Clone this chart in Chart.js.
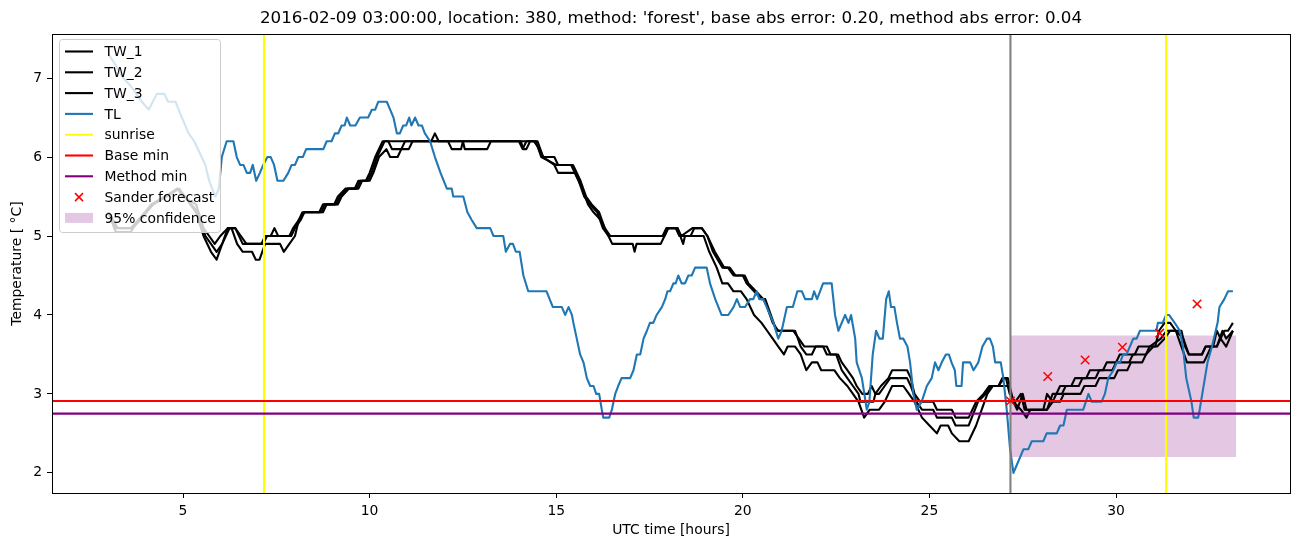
<!DOCTYPE html>
<html>
<head>
<meta charset="utf-8">
<script src="https://cdn.jsdelivr.net/npm/chart.js@4.4.0/dist/chart.umd.min.js"></script>
<style>
  body { margin: 0; background: #fff; }
  #wrap { width: 1302px; height: 547px; }
</style>
</head>
<body>
<div id="wrap"><canvas id="tempChart" width="1302" height="547"></canvas></div>
<script>
// [hour, temperature] pairs
const tw1 = [[3.0,5.3],[3.2,5.1],[3.6,5.1],[3.8,5.2],[4.15,5.4],[4.5,5.5],[4.85,5.6],[5.0,5.5],[5.35,5.4],[5.55,5.1],[5.7,5.0],[5.85,4.9],[6.0,5.0],[6.2,5.1],[6.4,5.1],[6.55,5.0],[6.7,4.9],[7.1,4.9],[7.2,5.0],[7.35,5.0],[7.45,5.1],[7.55,5.0],[7.85,5.0],[7.95,5.1],[8.1,5.2],[8.2,5.3],[8.65,5.3],[8.75,5.4],[9.05,5.4],[9.15,5.5],[9.35,5.6],[9.6,5.6],[9.7,5.7],[9.9,5.7],[10.0,5.8],[10.15,6.0],[10.35,6.2],[11.65,6.2],[11.75,6.3],[11.85,6.2],[14.4,6.2],[14.55,6.1],[14.65,6.0],[14.95,6.0],[15.05,5.9],[15.4,5.9],[15.6,5.7],[15.75,5.5],[15.9,5.4],[16.1,5.3],[16.25,5.1],[16.4,5.0],[17.85,5.0],[17.95,5.1],[18.2,5.1],[18.3,5.0],[18.6,5.0],[18.7,5.1],[18.9,5.1],[19.05,5.0],[19.2,4.8],[19.45,4.6],[19.6,4.6],[19.75,4.5],[20.0,4.5],[20.1,4.4],[20.3,4.3],[20.5,4.2],[20.6,4.2],[20.75,4.0],[20.9,3.8],[21.35,3.8],[21.5,3.7],[21.65,3.6],[22.25,3.6],[22.35,3.5],[22.55,3.5],[22.65,3.4],[22.8,3.3],[22.95,3.2],[23.05,3.1],[23.2,3.0],[23.35,3.0],[23.45,3.1],[23.55,3.0],[23.7,3.1],[23.9,3.2],[24.0,3.3],[24.4,3.3],[24.5,3.2],[24.6,3.0],[24.75,2.9],[25.1,2.9],[25.2,2.8],[25.6,2.8],[25.7,2.7],[26.05,2.7],[26.25,2.9],[26.45,3.0],[26.6,3.1],[26.85,3.1],[26.95,3.2],[27.05,3.2],[27.15,3.0],[27.3,2.9],[27.45,3.0],[27.55,2.8],[28.05,2.8],[28.15,3.0],[28.3,2.9],[28.4,3.0],[28.5,3.1],[28.8,3.1],[28.9,3.2],[29.2,3.2],[29.3,3.3],[29.65,3.3],[29.75,3.4],[30.0,3.4],[30.1,3.5],[30.5,3.5],[30.6,3.6],[31.05,3.6],[31.15,3.8],[31.3,3.9],[31.45,3.9],[31.6,3.8],[31.75,3.8],[31.85,3.6],[31.95,3.5],[32.3,3.5],[32.4,3.6],[32.6,3.6],[32.7,3.8],[32.8,3.7],[32.9,3.8],[33.0,3.8],[33.13,3.9]];
const tw2 = [[3.0,5.3],[3.25,5.1],[3.65,5.1],[3.85,5.2],[4.2,5.4],[4.55,5.5],[4.85,5.6],[5.05,5.5],[5.4,5.3],[5.6,5.0],[5.75,4.9],[5.9,4.8],[6.05,4.9],[6.25,5.1],[6.4,5.1],[6.6,4.9],[6.75,4.9],[7.15,4.9],[7.25,5.0],[7.9,5.0],[8.0,5.1],[8.15,5.2],[8.25,5.3],[8.7,5.3],[8.8,5.4],[9.1,5.4],[9.2,5.5],[9.4,5.6],[9.65,5.6],[9.75,5.7],[9.95,5.7],[10.05,5.8],[10.2,6.0],[10.4,6.2],[10.5,6.2],[10.6,6.1],[10.85,6.1],[10.95,6.2],[12.1,6.2],[12.2,6.1],[12.45,6.1],[12.5,6.2],[12.55,6.1],[13.15,6.1],[13.25,6.2],[14.0,6.2],[14.1,6.1],[14.2,6.2],[14.45,6.2],[14.6,6.0],[15.0,5.9],[15.45,5.9],[15.65,5.7],[15.8,5.5],[15.95,5.4],[16.15,5.3],[16.3,5.1],[16.45,5.0],[17.9,5.0],[18.0,5.1],[18.25,5.1],[18.35,5.0],[18.65,5.1],[18.9,5.1],[19.05,5.0],[19.25,4.8],[19.5,4.6],[19.65,4.6],[19.8,4.5],[20.05,4.5],[20.15,4.4],[20.35,4.3],[20.55,4.2],[20.65,4.1],[20.8,3.9],[20.95,3.8],[21.4,3.8],[21.55,3.6],[21.7,3.5],[21.85,3.5],[21.95,3.6],[22.15,3.6],[22.25,3.5],[22.5,3.5],[22.65,3.3],[22.8,3.2],[22.95,3.1],[23.1,3.0],[23.15,2.9],[23.5,2.9],[23.55,3.0],[23.65,3.0],[23.8,3.1],[23.95,3.2],[24.4,3.2],[24.5,3.1],[24.65,2.9],[24.8,2.8],[25.1,2.8],[25.2,2.7],[25.6,2.7],[25.7,2.6],[26.05,2.6],[26.3,2.9],[26.5,3.0],[26.65,3.1],[26.85,3.1],[27.0,3.2],[27.1,3.2],[27.25,2.9],[27.35,2.8],[27.5,3.0],[27.6,2.8],[28.15,2.8],[28.3,3.0],[28.55,3.0],[28.65,3.1],[29.0,3.1],[29.1,3.2],[29.45,3.2],[29.55,3.3],[29.9,3.3],[30.0,3.4],[30.35,3.4],[30.45,3.5],[30.8,3.5],[30.9,3.6],[31.2,3.7],[31.35,3.8],[31.6,3.8],[31.8,3.7],[31.95,3.5],[32.3,3.5],[32.4,3.6],[32.7,3.6],[32.8,3.7],[32.95,3.6],[33.13,3.8]];
const tw3 = [[3.0,5.3],[3.2,5.05],[3.6,5.05],[3.8,5.2],[4.2,5.4],[4.55,5.5],[4.9,5.6],[5.05,5.5],[5.35,5.3],[5.55,5.0],[5.75,4.8],[5.9,4.7],[6.05,4.9],[6.2,5.1],[6.3,5.1],[6.45,4.9],[6.6,4.8],[6.85,4.8],[6.95,4.7],[7.05,4.7],[7.2,4.9],[7.6,4.9],[7.7,4.8],[7.85,4.9],[8.0,5.0],[8.1,5.2],[8.25,5.3],[8.75,5.3],[8.85,5.4],[9.15,5.4],[9.25,5.5],[9.45,5.6],[9.7,5.6],[9.8,5.7],[10.0,5.7],[10.1,5.8],[10.25,6.0],[10.45,6.1],[10.55,6.0],[10.75,6.0],[10.85,6.1],[11.05,6.1],[11.15,6.2],[14.05,6.2],[14.12,6.1],[14.2,6.1],[14.3,6.2],[14.5,6.2],[14.65,6.0],[14.95,5.9],[15.05,5.8],[15.5,5.8],[15.7,5.6],[15.85,5.4],[16.0,5.3],[16.2,5.2],[16.4,5.0],[16.5,4.9],[17.05,4.9],[17.1,4.8],[17.15,4.9],[17.8,4.9],[17.9,5.0],[18.0,5.1],[18.25,5.1],[18.4,4.9],[18.45,5.0],[18.95,5.0],[19.1,4.8],[19.3,4.6],[19.45,4.4],[19.6,4.4],[19.75,4.3],[19.95,4.3],[20.1,4.2],[20.3,4.0],[20.5,3.9],[20.65,3.8],[20.8,3.7],[20.95,3.6],[21.1,3.5],[21.2,3.6],[21.4,3.6],[21.55,3.5],[21.7,3.3],[21.85,3.4],[22.0,3.4],[22.1,3.3],[22.45,3.3],[22.6,3.2],[22.8,3.1],[22.95,3.0],[23.1,2.9],[23.25,2.7],[23.4,2.8],[23.65,2.8],[23.8,2.9],[23.9,3.0],[24.0,3.1],[24.3,3.1],[24.45,3.0],[24.6,2.9],[24.8,2.7],[25.0,2.6],[25.2,2.5],[25.3,2.6],[25.5,2.6],[25.6,2.5],[25.8,2.4],[26.05,2.4],[26.25,2.6],[26.4,2.8],[26.55,3.0],[26.7,3.1],[26.95,3.1],[27.1,3.1],[27.25,2.9],[27.45,2.8],[27.6,2.7],[27.7,2.8],[28.15,2.8],[28.3,2.9],[28.5,2.9],[28.6,3.0],[29.05,3.0],[29.15,3.1],[29.45,3.1],[29.55,3.2],[29.95,3.2],[30.05,3.3],[30.3,3.3],[30.4,3.4],[30.7,3.4],[30.8,3.5],[31.0,3.6],[31.1,3.6],[31.3,3.7],[31.45,3.8],[31.6,3.8],[31.75,3.6],[31.9,3.4],[32.35,3.4],[32.45,3.5],[32.55,3.6],[32.7,3.6],[32.85,3.8],[32.95,3.7],[33.13,3.8]];
const tl = [[3.0,7.3],[3.15,7.2],[3.4,7.0],[3.6,6.9],[3.9,6.7],[4.08,6.6],[4.3,6.8],[4.5,6.8],[4.6,6.7],[4.8,6.7],[4.97,6.5],[5.15,6.3],[5.3,6.2],[5.5,6.0],[5.6,5.9],[5.7,5.7],[5.78,5.6],[5.87,5.5],[5.96,5.6],[6.04,6.0],[6.17,6.2],[6.35,6.2],[6.44,6.0],[6.53,5.9],[6.62,5.9],[6.71,5.8],[6.8,5.8],[6.87,5.9],[6.96,5.7],[7.06,5.8],[7.15,5.9],[7.26,6.0],[7.35,6.0],[7.44,5.9],[7.53,5.7],[7.69,5.7],[7.82,5.8],[7.91,5.9],[8.0,5.9],[8.09,6.0],[8.21,6.0],[8.3,6.1],[8.76,6.1],[8.85,6.2],[8.98,6.2],[9.07,6.3],[9.16,6.3],[9.25,6.4],[9.33,6.4],[9.39,6.5],[9.48,6.4],[9.62,6.4],[9.74,6.5],[9.96,6.5],[10.06,6.6],[10.15,6.6],[10.23,6.7],[10.46,6.7],[10.55,6.6],[10.64,6.5],[10.73,6.3],[10.81,6.3],[10.9,6.4],[10.98,6.4],[11.06,6.5],[11.12,6.4],[11.22,6.5],[11.31,6.4],[11.4,6.4],[11.48,6.3],[11.62,6.2],[11.75,6.0],[11.9,5.8],[12.07,5.6],[12.2,5.6],[12.24,5.5],[12.51,5.5],[12.62,5.3],[12.74,5.2],[12.87,5.1],[13.23,5.1],[13.32,5.0],[13.58,5.0],[13.65,4.8],[13.76,4.9],[13.84,4.9],[13.92,4.8],[14.02,4.8],[14.12,4.5],[14.25,4.3],[14.74,4.3],[14.91,4.1],[15.15,4.1],[15.24,4.0],[15.33,4.1],[15.42,4.0],[15.46,3.9],[15.55,3.7],[15.64,3.5],[15.73,3.4],[15.82,3.2],[15.91,3.1],[16.0,3.1],[16.07,3.0],[16.15,3.0],[16.22,2.8],[16.26,2.7],[16.42,2.7],[16.49,2.8],[16.58,3.0],[16.66,3.1],[16.75,3.2],[16.98,3.2],[17.07,3.3],[17.16,3.5],[17.25,3.5],[17.34,3.7],[17.43,3.8],[17.51,3.9],[17.6,3.9],[17.69,4.0],[17.83,4.1],[17.92,4.2],[17.98,4.3],[18.05,4.3],[18.14,4.4],[18.2,4.4],[18.27,4.5],[18.36,4.4],[18.45,4.4],[18.54,4.5],[18.63,4.5],[18.72,4.6],[19.03,4.6],[19.12,4.4],[19.26,4.2],[19.43,4.0],[19.61,4.0],[19.75,4.1],[19.84,4.2],[19.93,4.1],[20.06,4.1],[20.19,4.2],[20.28,4.2],[20.37,4.3],[20.44,4.2],[20.55,4.2],[20.64,4.1],[20.73,4.0],[20.82,3.9],[20.95,3.7],[21.04,3.8],[21.18,4.1],[21.34,4.1],[21.46,4.3],[21.58,4.3],[21.67,4.2],[21.85,4.2],[21.91,4.3],[21.99,4.2],[22.15,4.4],[22.38,4.4],[22.47,4.0],[22.56,3.8],[22.74,4.0],[22.83,3.9],[22.9,4.0],[23.01,3.7],[23.05,3.4],[23.19,3.2],[23.32,2.8],[23.39,2.9],[23.48,3.5],[23.57,3.8],[23.66,3.7],[23.75,3.7],[23.84,4.2],[23.91,4.3],[23.97,4.1],[24.06,4.1],[24.13,3.9],[24.21,3.7],[24.3,3.7],[24.41,3.6],[24.48,3.4],[24.57,3.0],[24.66,2.8],[24.79,2.9],[24.93,3.1],[25.06,3.2],[25.15,3.4],[25.24,3.3],[25.33,3.4],[25.44,3.5],[25.52,3.5],[25.59,3.4],[25.68,3.3],[25.72,3.1],[25.86,3.1],[25.9,3.4],[26.09,3.4],[26.18,3.3],[26.31,3.4],[26.42,3.6],[26.54,3.7],[26.62,3.7],[26.7,3.6],[26.76,3.4],[26.91,3.4],[26.98,3.2],[27.07,2.8],[27.16,2.3],[27.25,2.0],[27.34,2.1],[27.52,2.3],[27.65,2.3],[27.74,2.4],[28.05,2.4],[28.14,2.5],[28.41,2.5],[28.5,2.6],[28.59,2.6],[28.68,2.8],[29.12,2.8],[29.26,3.0],[29.35,2.9],[29.61,2.9],[29.7,3.0],[29.79,3.2],[29.93,3.3],[30.02,3.4],[30.11,3.4],[30.19,3.5],[30.28,3.5],[30.37,3.6],[30.46,3.7],[30.55,3.7],[30.64,3.8],[31.08,3.8],[31.12,3.9],[31.25,3.9],[31.34,4.0],[31.42,4.0],[31.57,3.9],[31.71,3.8],[31.79,3.6],[31.88,3.2],[32.02,2.9],[32.08,2.7],[32.2,2.7],[32.24,2.8],[32.31,3.0],[32.45,3.4],[32.57,3.6],[32.72,3.9],[32.77,4.1],[32.9,4.2],[33.0,4.3],[33.13,4.3]];

const sunriseHours = [7.17, 31.34];
const forecastStart = 27.17;
const baseMin = 2.91;
const methodMin = 2.75;
const sanderHours = [27.17, 28.17, 29.17, 30.17, 31.17, 32.17];
const sanderTemps = [2.91, 3.22, 3.43, 3.59, 3.77, 4.14];
const confHours = [27.17, 33.22];
const confLow = 2.2;
const confHigh = 3.74;

const xTicks = [5, 10, 15, 20, 25, 30];
const yTicks = [2, 3, 4, 5, 6, 7];
const xMin = 1.49, xMax = 34.66;
const yMin = 1.745, yMax = 7.558;

const titleText = "2016-02-09 03:00:00, location: 380, method: 'forest', base abs error: 0.20, method abs error: 0.04";

document.addEventListener("DOMContentLoaded", function () {
  const ctx = document.getElementById("tempChart").getContext("2d");
  const pts = (arr) => arr.map((p) => ({ x: p[0], y: p[1] }));
  const vline = (h) => [{ x: h, y: yMin }, { x: h, y: yMax }];
  const hline = (v) => [{ x: xMin, y: v }, { x: xMax, y: v }];

  Chart.defaults.font.family = "'DejaVu Sans', sans-serif";
  Chart.defaults.color = "#000";

  const lineStyle = { borderWidth: 2.1, pointRadius: 0, tension: 0, fill: false, borderJoinStyle: "round" };

  const datasets = [
    { label: "TW_1", data: pts(tw1), borderColor: "#000", order: 9, ...lineStyle },
    { label: "TW_2", data: pts(tw2), borderColor: "#000", order: 8, ...lineStyle },
    { label: "TW_3", data: pts(tw3), borderColor: "#000", order: 7, ...lineStyle },
    { label: "TL", data: pts(tl), borderColor: "#1f77b4", order: 6, ...lineStyle },
    { label: "sunrise", data: vline(sunriseHours[0]), borderColor: "#ffff00", order: 5, ...lineStyle },
    { label: "", data: vline(sunriseHours[1]), borderColor: "#ffff00", order: 5, ...lineStyle },
    { label: "Base min", data: hline(baseMin), borderColor: "#ff0000", order: 4, ...lineStyle },
    { label: "Method min", data: hline(methodMin), borderColor: "#800080", order: 3, ...lineStyle },
    { label: "", data: vline(forecastStart), borderColor: "#808080", order: 2, ...lineStyle },
    {
      label: "Sander forecast",
      data: sanderHours.map((h, i) => ({ x: h, y: sanderTemps[i] })),
      showLine: false,
      pointStyle: "crossRot",
      pointRadius: 6,
      pointBorderWidth: 1.5,
      borderColor: "#ff0000",
      backgroundColor: "#ff0000",
      order: 1,
    },
    {
      label: "95% confidence",
      data: confHours.map((h) => ({ x: h, y: confHigh })),
      borderWidth: 0,
      borderColor: "rgba(0,0,0,0)",
      pointRadius: 0,
      backgroundColor: "rgba(128,0,128,0.22)",
      fill: { value: confLow },
      order: 10,
    },
  ];

  // center the title over the plot area, like matplotlib does
  const titlePlugin = {
    id: "titleOverAxes",
    afterLayout(chart) {
      if (chart.titleBlock) {
        chart.titleBlock.left = chart.chartArea.left;
        chart.titleBlock.right = chart.chartArea.right;
      }
    },
  };

  // box around the plot area
  const framePlugin = {
    id: "frame",
    afterDatasetsDraw(chart) {
      const a = chart.chartArea;
      const c = chart.ctx;
      c.save();
      c.strokeStyle = "#000";
      c.lineWidth = 1;
      c.strokeRect(Math.round(a.left) + 0.5, Math.round(a.top) + 0.5, Math.round(a.right - a.left), Math.round(a.bottom - a.top));
      c.restore();
    },
  };

  // matplotlib-like legend in the upper left corner
  const legendPlugin = {
    id: "boxLegend",
    afterDatasetsDraw(chart) {
      const c = chart.ctx;
      const items = chart.data.datasets.filter((d) => d.label);
      const x0 = 59.5, y0 = 39.5, w = 161, h = 193, rowH = 20.8, firstRow = 51.5;
      c.save();
      c.beginPath();
      c.roundRect(x0, y0, w, h, 3);
      c.fillStyle = "rgba(255,255,255,0.8)";
      c.fill();
      c.strokeStyle = "#cccccc";
      c.lineWidth = 1;
      c.stroke();
      c.font = "13.9px 'DejaVu Sans', sans-serif";
      c.textBaseline = "middle";
      items.forEach((d, i) => {
        const y = firstRow + i * rowH;
        if (d.fill && d.fill.value !== undefined) {
          c.fillStyle = d.backgroundColor;
          c.fillRect(65, y - 5, 28, 10);
        } else if (d.showLine === false) {
          c.strokeStyle = d.borderColor;
          c.lineWidth = 1.5;
          c.beginPath();
          c.moveTo(75, y - 4); c.lineTo(83, y + 4);
          c.moveTo(75, y + 4); c.lineTo(83, y - 4);
          c.stroke();
        } else {
          c.strokeStyle = d.borderColor;
          c.lineWidth = 2.1;
          c.beginPath();
          c.moveTo(65, y); c.lineTo(93, y);
          c.stroke();
        }
        c.fillStyle = "#000";
        c.fillText(d.label, 104.5, y + 1);
      });
      c.restore();
    },
  };

  const config = {
    type: "line",
    data: { datasets: datasets },
    options: {
      responsive: false,
      animation: false,
      devicePixelRatio: 1,
      layout: { padding: { left: 0, right: 12, top: 0, bottom: 0 } },
      plugins: {
        legend: { display: false },
        tooltip: { enabled: false },
        title: {
          display: true,
          text: titleText,
          font: { size: 16.7, weight: "normal" },
          color: "#000",
          padding: { top: 9, bottom: 5 },
        },
      },
      scales: {
        x: {
          type: "linear",
          min: xMin,
          max: xMax,
          afterBuildTicks: (scale) => { scale.ticks = xTicks.map((v) => ({ value: v })); },
          afterFit: (scale) => { scale.height = 54; },
          ticks: { font: { size: 13.9 }, padding: 5, maxRotation: 0, color: "#000" },
          grid: { drawOnChartArea: false, drawTicks: true, tickLength: 5, tickColor: "#000" },
          border: { display: false },
          title: { display: true, text: "UTC time [hours]", font: { size: 13.9 }, padding: { top: 0, bottom: 8 }, color: "#000" },
        },
        y: {
          type: "linear",
          min: yMin,
          max: yMax,
          afterBuildTicks: (scale) => { scale.ticks = yTicks.map((v) => ({ value: v })); },
          afterFit: (scale) => { scale.width = 52; },
          ticks: { font: { size: 13.9 }, padding: 5, color: "#000" },
          grid: { drawOnChartArea: false, drawTicks: true, tickLength: 5, tickColor: "#000" },
          border: { display: false },
          title: { display: true, text: "Temperature [ \u00B0C]", font: { size: 13.9 }, padding: { top: 9, bottom: 0 }, color: "#000" },
        },
      },
    },
    plugins: [titlePlugin, framePlugin, legendPlugin],
  };

  const tempChart = new Chart(ctx, config);
});
</script>
</body>
</html>
